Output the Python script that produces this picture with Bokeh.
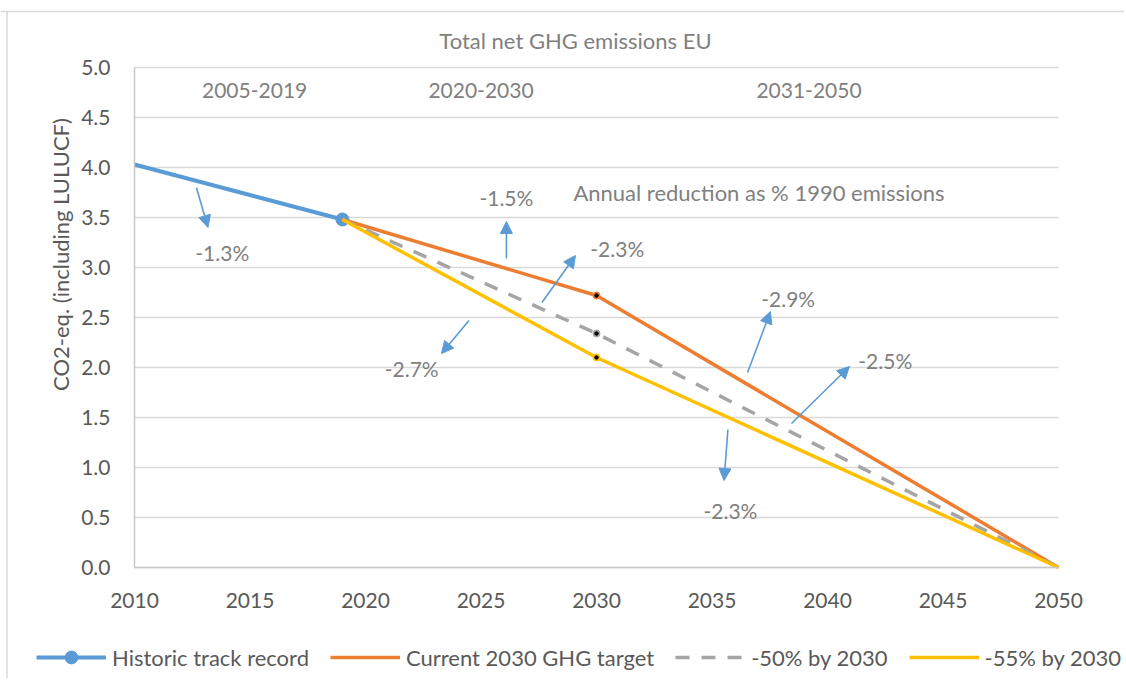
import math
from bokeh.plotting import figure
from bokeh.models import (Range1d, FixedTicker, NumeralTickFormatter, Label,
                          Arrow, NormalHead, Legend, LegendItem)
from bokeh.embed import file_html
from bokeh.resources import INLINE

# ---- data ----
hist_years = [2010, 2019]
hist_vals = [4.03, 3.48]
cur_years = [2019, 2030, 2050]
cur_vals = [3.48, 2.72, 0.0]
p50_years = [2019, 2030, 2050]
p50_vals = [3.48, 2.34, 0.0]
p55_years = [2019, 2030, 2050]
p55_vals = [3.48, 2.10, 0.0]

x_ticks = [2010, 2015, 2020, 2025, 2030, 2035, 2040, 2045, 2050]
y_ticks = [0.0, 0.5, 1.0, 1.5, 2.0, 2.5, 3.0, 3.5, 4.0, 4.5, 5.0]

period_labels = ["2005-2019", "2020-2030", "2031-2050"]
period_x = [2015.2, 2025.0, 2039.2]
period_y = [4.77, 4.77, 4.77]

pct_labels = ["-1.3%", "-1.5%", "-2.3%", "-2.9%", "-2.7%", "-2.5%", "-2.3%"]
pct_x = [2013.8, 2026.1, 2030.9, 2038.3, 2022.0, 2042.5, 2035.8]
pct_y = [3.15, 3.70, 3.19, 2.69, 1.99, 2.07, 0.57]

arrow_x0 = [2012.68, 2026.10, 2027.64, 2024.48, 2036.54, 2038.44, 2035.69]
arrow_y0 = [3.80, 3.09, 2.65, 2.47, 1.95, 1.44, 1.38]
arrow_x1 = [2013.18, 2026.10, 2029.09, 2023.29, 2037.53, 2040.95, 2035.52]
arrow_y1 = [3.40, 3.46, 3.12, 2.14, 2.56, 2.01, 0.87]

title_text = "Total net GHG emissions EU"
note_text = "Annual reduction as % 1990 emissions"
ylabel_text = "CO2-eq. (including LULUCF)"

BLUE = "#5B9BD5"
ORANGE = "#ED7D31"
GRAY = "#A5A5A5"
YELLOW = "#FFC000"
TXT = "#595959"
TXT2 = "#808080"
FONT = "Lato"

W, H = 1124, 678
PX_YR = 23.1
PX_UNIT = 100.0
x0_px, y0_px = 134, 567   # pixel position of (2010, 0)
x_start = x_ticks[0] - x0_px / PX_YR
x_end = x_ticks[0] + (W - x0_px) / PX_YR
y_start = -(H - y0_px) / PX_UNIT
y_end = y0_px / PX_UNIT

p = figure(width=W, height=H, output_backend="svg", toolbar_location=None,
           x_range=Range1d(x_start, x_end), y_range=Range1d(y_start, y_end),
           min_border=0)
p.outline_line_color = None
p.xgrid.visible = False
p.ygrid.visible = False

# chart-area border
p.segment(x0=[x_start, x_start + 6.5 / PX_YR], y0=[y_end - 11 / PX_UNIT, y_end - 11 / PX_UNIT],
          x1=[x_end, x_start + 6.5 / PX_YR], y1=[y_end - 11 / PX_UNIT, y_start],
          line_color="#D9D9D9", line_width=1.5)

# horizontal gridlines
p.segment(x0=[x_ticks[0]] * len(y_ticks), x1=[x_ticks[-1]] * len(y_ticks), y0=y_ticks, y1=y_ticks,
          line_color="#D9D9D9", line_width=1.5)

p.xaxis.ticker = FixedTicker(ticks=x_ticks)
p.yaxis.ticker = FixedTicker(ticks=y_ticks)
p.yaxis.formatter = NumeralTickFormatter(format="0.0")
p.xaxis.fixed_location = 0
p.yaxis.fixed_location = x_ticks[0]
p.xaxis.bounds = (x_ticks[0], x_ticks[-1])
p.yaxis.bounds = (y_ticks[0], y_ticks[-1])
for ax in (p.xaxis[0], p.yaxis[0]):
    ax.major_tick_line_color = None
    ax.minor_tick_line_color = None
    ax.axis_line_color = "#C8C8C8"
    ax.axis_line_width = 1.5
    ax.major_label_text_font = FONT
    ax.major_label_text_font_size = "21px"
    ax.major_label_text_color = TXT
p.xaxis.major_label_standoff = 19
p.yaxis.major_label_standoff = 18

hist_line = p.line(hist_years, hist_vals, line_color=BLUE, line_width=4)
hist_pt = p.scatter([hist_years[-1]], [hist_vals[-1]], size=13, fill_color=BLUE, line_color=BLUE)
cur_line = p.line(cur_years, cur_vals, line_color=ORANGE, line_width=3.5)
p50_line = p.line(p50_years, p50_vals, line_color=GRAY, line_width=3.5, line_dash="14 12")
p55_line = p.line(p55_years, p55_vals, line_color=YELLOW, line_width=3.5)

for yrs, vals, col in ((cur_years, cur_vals, ORANGE), (p50_years, p50_vals, GRAY), (p55_years, p55_vals, YELLOW)):
    p.scatter([yrs[1]], [vals[1]], size=7, fill_color=col, line_color=col)
    p.scatter([yrs[1]], [vals[1]], size=3.5, fill_color="black", line_color="black")

for i in range(len(arrow_x0)):
    p.add_layout(Arrow(end=NormalHead(size=12, fill_color=BLUE, line_color=BLUE, line_width=1),
                       x_start=arrow_x0[i], y_start=arrow_y0[i], x_end=arrow_x1[i], y_end=arrow_y1[i],
                       line_color=BLUE, line_width=1.6))

for t, x, y in zip(pct_labels, pct_x, pct_y):
    p.add_layout(Label(x=x, y=y, text=t, text_align="center", text_baseline="middle",
                       text_font=FONT, text_font_size="21px", text_color=TXT2))
for t, x, y in zip(period_labels, period_x, period_y):
    p.add_layout(Label(x=x, y=y, text=t, text_align="center", text_baseline="middle",
                       text_font=FONT, text_font_size="21px", text_color=TXT2))

p.add_layout(Label(x=2029.0, y=3.75, text=note_text, text_align="left", text_baseline="middle",
                   text_font=FONT, text_font_size="22px", text_color=TXT2))
p.add_layout(Label(x=2029.09, y=5.27, text=title_text, text_align="center", text_baseline="middle",
                   text_font=FONT, text_font_size="22px", text_color=TXT2))
p.add_layout(Label(x=2006.8, y=3.13, text=ylabel_text, angle=math.pi / 2, text_align="center",
                   text_baseline="middle", text_font=FONT, text_font_size="22px", text_color=TXT))

legend = Legend(items=[
    LegendItem(label="Historic track record", renderers=[hist_line, hist_pt]),
    LegendItem(label="Current 2030 GHG target", renderers=[cur_line]),
    LegendItem(label="-50% by 2030", renderers=[p50_line]),
    LegendItem(label="-55% by 2030", renderers=[p55_line]),
], location=(36, 5), orientation="horizontal", glyph_width=70, glyph_height=32,
    label_height=24, label_standoff=6, spacing=21, padding=0, margin=0,
    border_line_alpha=0, background_fill_alpha=0,
    label_text_font=FONT, label_text_font_size="22px", label_text_color=TXT)
p.add_layout(legend)

open("out.html", "w").write(file_html(p, INLINE))
